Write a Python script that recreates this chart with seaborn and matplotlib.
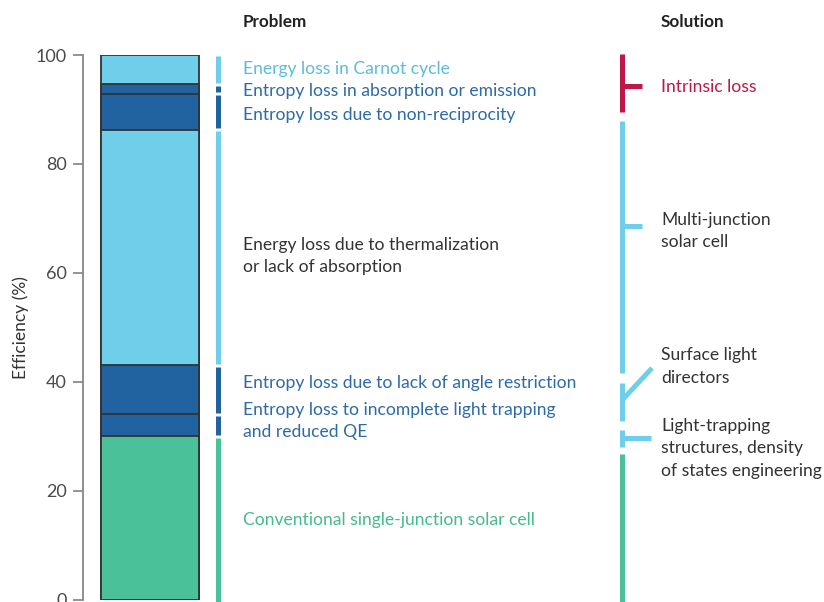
import numpy as np
import pandas as pd
import seaborn as sns
import matplotlib.pyplot as plt
from matplotlib import transforms

# --- data -------------------------------------------------------------
segment_names = ["Conventional", "Trapping/QE", "Angle", "Thermalization",
                 "Non-reciprocity", "Absorption/emission", "Carnot"]
segment_values = [30.0, 4.0, 9.0, 43.3, 6.6, 1.7, 5.4]

LIGHT = "#6fcfea"
DARK = "#2163a1"
GREEN = "#4bc19a"
RED = "#c0174a"
segment_colors = [GREEN, DARK, DARK, LIGHT, DARK, DARK, LIGHT]

problem_labels = ["Energy loss in Carnot cycle",
                  "Entropy loss in absorption or emission",
                  "Entropy loss due to non-reciprocity",
                  "Energy loss due to thermalization\nor lack of absorption",
                  "Entropy loss due to lack of angle restriction",
                  "Entropy loss to incomplete light trapping\nand reduced QE",
                  "Conventional single-junction solar cell"]
problem_y = [97.4, 93.4, 89.0, 63.1, 39.7, 32.8, 14.6]
problem_colors = ["#5cbcd8", "#2d6aa8", "#2d6aa8", "#333333",
                  "#2d6aa8", "#2d6aa8", "#45bb8e"]

solution_labels = ["Intrinsic loss", "Multi-junction\nsolar cell",
                   "Surface light\ndirectors",
                   "Light-trapping\nstructures, density\nof states engineering"]
solution_y = [94.1, 67.7, 42.8, 27.8]
solution_colors = [RED, "#333333", "#333333", "#333333"]

# vertical brackets of the solution column: (bottom, top, colour)
solution_spans = [(89.5, 100.2, RED), (41.6, 87.9, LIGHT),
                  (32.7, 39.8, LIGHT), (28.0, 31.1, LIGHT), (-1.0, 26.7, GREEN)]

df = pd.DataFrame({"name": segment_names, "value": segment_values,
                   "color": segment_colors})
df["top"] = df["value"].cumsum()
df["bottom"] = df["top"] - df["value"]

# --- figure -----------------------------------------------------------
sns.set_theme(style="white")
plt.rcParams["font.family"] = ["Lato", "DejaVu Sans"]

fig = plt.figure(figsize=(8.24, 6.02), dpi=100)
W, H = 824, 602
ax = fig.add_axes([83 / W, 2.5 / H, (W - 83) / W, (599.5 - 55) / H])

# stacked bar: draw cumulative totals from the largest down
for _, row in df[::-1].iterrows():
    sns.barplot(x=["bar"], y=[row["top"]], color=row["color"], saturation=1,
                width=0.8, edgecolor="#333333", linewidth=1.3, ax=ax)

# bar spans px 101..199 -> 0.8 units = 98 px
upx = 98 / 0.8
ax.set_xlim((83 - 150) / upx, (W - 150) / upx)
ax.set_ylim(0, 100)
ax.set_yticks([0, 20, 40, 60, 80, 100])
ax.set_xticks([])
ax.set_xlabel("")
ax.set_ylabel("Efficiency (%)", fontsize=12.5, color="#333333", labelpad=5)
ax.tick_params(axis="y", length=7.5, width=1.1, color="#777777",
               labelcolor="#4a4a4a", labelsize=13, pad=4, left=True)
for s in ["top", "right", "bottom"]:
    ax.spines[s].set_visible(False)
ax.spines["left"].set_color("#888888")
ax.spines["left"].set_linewidth(1.3)

tr = transforms.blended_transform_factory(fig.transFigure, ax.transData)
fx = lambda px: px / W
lw = 3.6

# problem column indicator lines
for _, row in df.iterrows():
    lo = row["bottom"] + 0.25 if row["bottom"] > 0 else -1
    hi = row["top"] - 0.25
    ax.plot([fx(218), fx(218)], [lo, hi], color=row["color"], lw=lw,
            solid_capstyle="butt", transform=tr, clip_on=False)

for lab, y, c in zip(problem_labels, problem_y, problem_colors):
    ax.text(fx(243), y, lab, color=c, fontsize=12.6, va="center", ha="left",
            transform=tr, linespacing=1.45)

# solution column
for lo, hi, c in solution_spans:
    ax.plot([fx(622), fx(622)], [lo, hi], color=c, lw=lw,
            solid_capstyle="butt", transform=tr, clip_on=False)
ax.plot([fx(622), fx(642)], [94.3, 94.3], color=RED, lw=lw,
        solid_capstyle="butt", transform=tr, clip_on=False)
ax.plot([fx(622), fx(642)], [68.6, 68.6], color=LIGHT, lw=lw,
        solid_capstyle="butt", transform=tr, clip_on=False)
ax.plot([fx(622), fx(652)], [36.6, 42.5], color=LIGHT, lw=lw,
        solid_capstyle="butt", transform=tr, clip_on=False)
ax.plot([fx(622), fx(651)], [29.7, 29.7], color=LIGHT, lw=lw,
        solid_capstyle="butt", transform=tr, clip_on=False)

for lab, y, c in zip(solution_labels, solution_y, solution_colors):
    ax.text(fx(661), y, lab, color=c, fontsize=12.6, va="center", ha="left",
            transform=tr, linespacing=1.5)

fig.text(fx(243), 1 - 22 / H, "Problem", fontsize=12.3, fontweight="bold",
         color="#222222", va="center", ha="left")
fig.text(fx(661), 1 - 22 / H, "Solution", fontsize=12.3, fontweight="bold",
         color="#222222", va="center", ha="left")

fig.savefig("out.png", dpi=100)
